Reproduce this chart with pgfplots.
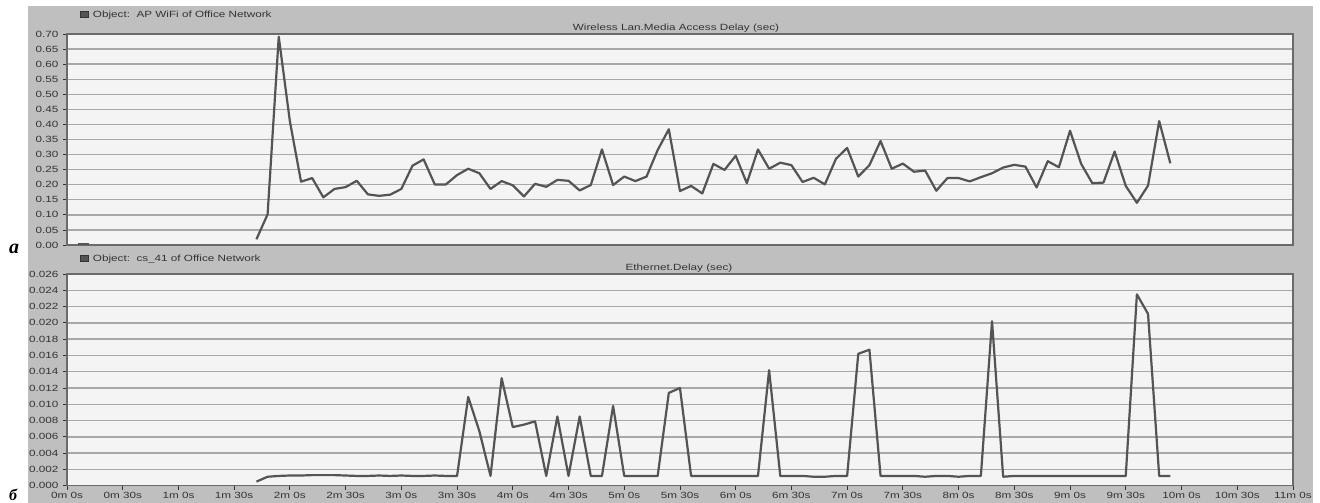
\documentclass[border=0pt]{standalone}
\usepackage{fontspec}
\setmainfont{Liberation Sans}
\newfontfamily\capfont{Liberation Serif}
\usepackage{pgfplots}
\pgfplotsset{compat=1.18}

\definecolor{frame}{HTML}{BFBFBF}
\definecolor{plotbg}{HTML}{F4F4F4}
\definecolor{gridc}{HTML}{A8A8A8}
\definecolor{linec}{HTML}{545454}
\definecolor{txt}{HTML}{333333}
\definecolor{spine}{HTML}{6A6A6A}

\newcommand\hdr{\fontsize{9}{10}\selectfont}

\pgfplotsset{
  opnet/.style={
    scale only axis, width=1226pt,
    xmin=0, xmax=660, ymin=0,
    axis background/.style={fill=plotbg},
    ymajorgrids, major grid style={gridc, line width=1.4pt},
    axis line style={spine, line width=1.3pt},
    tick style={txt, line width=0.8pt}, major tick length=4pt, tick align=outside,
    ytick pos=left, xtick pos=bottom,
    tick label style={font=\hdr, text=txt, xscale=1.3},
    scaled y ticks=false,
    /pgf/number format/assume math mode=true,
    yticklabel style={/pgf/number format/fixed, /pgf/number format/fixed zerofill},
  }
}

\begin{document}
\begin{tikzpicture}
\path[use as bounding box] (0pt,0pt) rectangle (1320pt,503pt);
\fill[white] (0pt,0pt) rectangle (1320pt,503pt);
\fill[frame] (28pt,0pt) rectangle (1313pt,497pt);

% top panel: wireless LAN media access delay
\begin{axis}[opnet, height=211pt, at={(67pt,258pt)}, anchor=south west,
  ymax=0.70, xtick=\empty,
  ytick={0,0.05,0.10,0.15,0.20,0.25,0.30,0.35,0.40,0.45,0.50,0.55,0.60,0.65,0.70},
  yticklabel style={/pgf/number format/precision=2}]
\addplot[linec, line width=2.2pt, line join=round, mark=none] coordinates {(6,0.0015) (12,0.0015)};
\addplot[linec, line width=2.2pt, line join=round, mark=none] coordinates {
 (102,0.019) (108,0.102) (114,0.691) (120,0.410) (126,0.210) (132,0.222)
 (138,0.158) (144,0.186) (150,0.192) (156,0.213) (162,0.168) (168,0.163)
 (174,0.167) (180,0.186) (186,0.263) (192,0.284) (198,0.201) (204,0.201)
 (210,0.232) (216,0.253) (222,0.238) (228,0.186) (234,0.212) (240,0.198)
 (246,0.161) (252,0.203) (258,0.193) (264,0.216) (270,0.213) (276,0.181)
 (282,0.199) (288,0.317) (294,0.199) (300,0.227) (306,0.212) (312,0.227)
 (318,0.315) (324,0.384) (330,0.179) (336,0.196) (342,0.171) (348,0.269)
 (354,0.249) (360,0.296) (366,0.205) (372,0.317) (378,0.253) (384,0.273)
 (390,0.265) (396,0.209) (402,0.223) (408,0.201) (414,0.286) (420,0.322)
 (426,0.227) (432,0.265) (438,0.345) (444,0.253) (450,0.270) (456,0.243)
 (462,0.247) (468,0.180) (474,0.222) (480,0.222) (486,0.211) (492,0.225)
 (498,0.238) (504,0.257) (510,0.266) (516,0.260) (522,0.191) (528,0.278)
 (534,0.258) (540,0.379) (546,0.269) (552,0.205) (558,0.207) (564,0.310)
 (570,0.196) (576,0.140) (582,0.197) (588,0.411) (594,0.271)
};
\end{axis}

% bottom panel: ethernet delay
\begin{axis}[opnet, height=211.7pt, at={(67pt,17.3pt)}, anchor=south west,
  ymax=0.026,
  ytick={0,0.002,0.004,0.006,0.008,0.010,0.012,0.014,0.016,0.018,0.020,0.022,0.024,0.026},
  yticklabel style={/pgf/number format/precision=3},
  xtick={0,30,...,660},
  xticklabels={0m 0s,0m 30s,1m 0s,1m 30s,2m 0s,2m 30s,3m 0s,3m 30s,4m 0s,4m 30s,5m 0s,5m 30s,6m 0s,6m 30s,7m 0s,7m 30s,8m 0s,8m 30s,9m 0s,9m 30s,10m 0s,10m 30s,11m 0s},
  xticklabel style={yshift=1pt}]
\addplot[linec, line width=2.2pt, line join=round, mark=none] coordinates {
 (102,0.0005) (108,0.0011) (114,0.0012) (120,0.00125) (126,0.00125) (132,0.0013)
 (138,0.0013) (144,0.0013) (150,0.00125) (156,0.0012) (162,0.0012) (168,0.00125)
 (174,0.0012) (180,0.00125) (186,0.0012) (192,0.0012) (198,0.00125) (204,0.0012)
 (210,0.0012) (216,0.0109) (222,0.0067) (228,0.0012) (234,0.0132) (240,0.0072)
 (246,0.0075) (252,0.0079) (258,0.0012) (264,0.0085) (270,0.0012) (276,0.0085)
 (282,0.0012) (288,0.0012) (294,0.0098) (300,0.0012) (306,0.0012) (312,0.0012)
 (318,0.0012) (324,0.0114) (330,0.0120) (336,0.0012) (342,0.0012) (348,0.0012)
 (354,0.0012) (360,0.0012) (366,0.0012) (372,0.0012) (378,0.0142) (384,0.0012)
 (390,0.0012) (396,0.0012) (402,0.0011) (408,0.0011) (414,0.0012) (420,0.0012)
 (426,0.0162) (432,0.0167) (438,0.0012) (444,0.0012) (450,0.0012) (456,0.0012)
 (462,0.0011) (468,0.0012) (474,0.0012) (480,0.0011) (486,0.0012) (492,0.0012)
 (498,0.0202) (504,0.0011) (510,0.0012) (516,0.0012) (522,0.0012) (528,0.0012)
 (534,0.0012) (540,0.0012) (546,0.0012) (552,0.0012) (558,0.0012) (564,0.0012)
 (570,0.0012) (576,0.0235) (582,0.0211) (588,0.0012) (594,0.0012)
};
\end{axis}

% panel headers
\filldraw[fill=linec, draw=black!80, line width=0.4pt] (80pt,485.7pt) rectangle (88pt,491.7pt);
\node[anchor=base west, font=\hdr, text=txt, xscale=1.3, inner sep=0pt] at (92.7pt,485.7pt) {Object:\ \ AP WiFi of Office Network};
\node[anchor=base, font=\hdr, text=txt, xscale=1.3, inner sep=0pt] at (676pt,472pt) {Wireless Lan.Media Access Delay (sec)};

\filldraw[fill=linec, draw=black!80, line width=0.4pt] (80pt,241.5pt) rectangle (88pt,247.5pt);
\node[anchor=base west, font=\hdr, text=txt, xscale=1.3, inner sep=0pt] at (92.7pt,241.5pt) {Object:\ \ cs\_41 of Office Network};
\node[anchor=base, font=\hdr, text=txt, xscale=1.3, inner sep=0pt] at (679pt,232pt) {Ethernet.Delay (sec)};

% figure part letters
\node[anchor=base west, inner sep=0pt, font=\capfont\bfseries\itshape\fontsize{20}{20}\selectfont] at (9pt,249.7pt) {а};
\node[anchor=base west, inner sep=0pt, font=\capfont\bfseries\itshape\fontsize{16}{16}\selectfont] at (9pt,2.5pt) {б};
\end{tikzpicture}
\end{document}
